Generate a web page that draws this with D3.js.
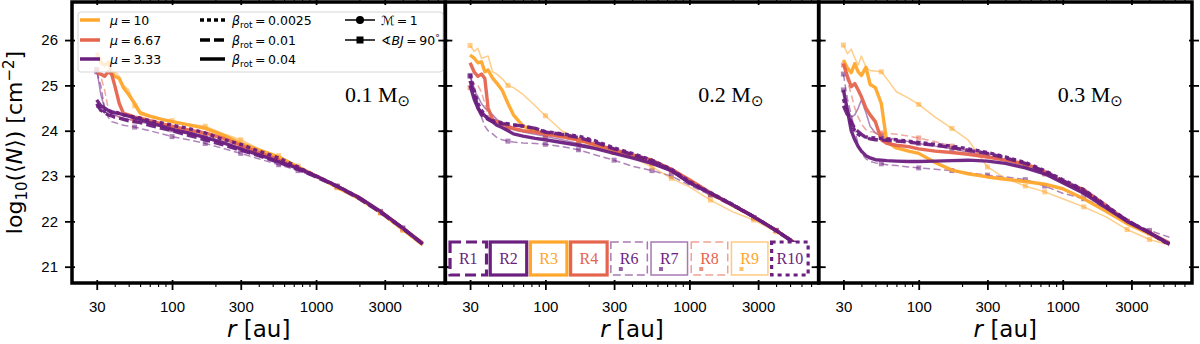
<!DOCTYPE html>
<html>
<head>
<meta charset="utf-8">
<script src="https://cdn.jsdelivr.net/npm/d3@7"></script>
<style>
  body { margin: 0; background: #fff; }
  svg { display: block; }
</style>
</head>
<body>
<svg id="main" width="1200" height="344"></svg>
<script>
// radius grid [au] shared by every profile
var radii = [30, 32, 34, 36, 38, 40, 43, 46, 50, 55, 60, 70, 85, 100, 130, 170, 220, 300, 400, 550, 750, 1000, 1400, 2000, 2800, 4000, 5500];

// square markers on the <BJ = 90 deg runs
var markerRadii = [30, 55, 100, 170, 300, 550, 750, 1400, 2800, 4000];

var massLabels = ['0.1', '0.2', '0.3'];
var majorR = [30, 100, 300, 1000, 3000];
var yTicks = [21, 22, 23, 24, 25, 26];

var runNames = ['R1', 'R2', 'R3', 'R4', 'R6', 'R7', 'R8', 'R9', 'R10'];
var runMu = ['3.33', '3.33', '10', '6.67', '3.33', '3.33', '6.67', '10', '3.33'];
var runBeta = ['0.01', '0.04', '0.04', '0.04', '0.01', '0.04', '0.01', '0.04', '0.0025'];
var runField = ['M1', 'M1', 'M1', 'M1', 'BJ90', 'BJ90', 'BJ90', 'BJ90', 'M1'];

// log10 <N> [cm^-2], 0.1 Msun
var R1_01 = [24.60, 24.45, 24.40, 24.35, 24.33, 24.30, 24.28, 24.25, 24.22, 24.20, 24.18, 24.12, 24.05, 24.00, 23.90, 23.80, 23.70, 23.57, 23.45, 23.30, 23.15, 22.98, 22.77, 22.50, 22.20, 21.85, 21.50];
var R2_01 = [24.68, 24.55, 24.50, 24.45, 24.42, 24.40, 24.38, 24.35, 24.32, 24.28, 24.25, 24.18, 24.10, 24.03, 23.95, 23.85, 23.75, 23.60, 23.47, 23.32, 23.17, 23.00, 22.78, 22.52, 22.22, 21.85, 21.50];
var R3_01 = [25.72, 25.50, 25.45, 25.50, 25.30, 25.20, 25.15, 24.95, 24.80, 24.60, 24.40, 24.32, 24.25, 24.20, 24.13, 24.05, 23.92, 23.72, 23.58, 23.42, 23.20, 23.00, 22.75, 22.50, 22.20, 21.82, 21.48];
var R4_01 = [25.28, 25.25, 25.20, 25.30, 25.25, 25.00, 24.60, 24.38, 24.35, 24.30, 24.28, 24.22, 24.15, 24.10, 24.02, 23.95, 23.85, 23.68, 23.52, 23.36, 23.18, 23.00, 22.77, 22.52, 22.22, 21.85, 21.52];
var R6_01 = [25.30, 25.00, 24.50, 24.30, 24.20, 24.18, 24.15, 24.12, 24.10, 24.08, 24.05, 24.00, 23.93, 23.87, 23.80, 23.72, 23.62, 23.50, 23.38, 23.25, 23.12, 22.97, 22.76, 22.50, 22.20, 21.85, 21.55];
var R7_01 = [25.35, 24.80, 24.50, 24.45, 24.40, 24.35, 24.30, 24.28, 24.25, 24.22, 24.20, 24.15, 24.10, 24.02, 23.95, 23.85, 23.75, 23.60, 23.48, 23.33, 23.17, 23.00, 22.78, 22.52, 22.22, 21.85, 21.50];
var R8_01 = [25.35, 25.20, 24.90, 24.50, 24.40, 24.35, 24.30, 24.28, 24.25, 24.22, 24.20, 24.15, 24.10, 24.05, 23.98, 23.90, 23.80, 23.66, 23.52, 23.35, 23.17, 23.00, 22.77, 22.52, 22.20, 21.82, 21.55];
var R9_01 = [25.60, 25.62, 25.40, 25.55, 25.25, 25.30, 25.20, 25.00, 24.90, 24.55, 24.35, 24.30, 24.25, 24.22, 24.15, 24.10, 23.95, 23.80, 23.60, 23.45, 23.22, 23.00, 22.74, 22.48, 22.18, 21.80, 21.50];
var R10_01 = [24.55, 24.50, 24.42, 24.45, 24.40, 24.42, 24.38, 24.35, 24.33, 24.30, 24.28, 24.22, 24.17, 24.12, 24.05, 23.95, 23.82, 23.70, 23.55, 23.40, 23.20, 23.00, 22.78, 22.52, 22.20, 21.85, 21.50];

// 0.2 Msun
var R1_02 = [25.10, 24.80, 24.50, 24.35, 24.30, 24.25, 24.20, 24.17, 24.15, 24.15, 24.13, 24.10, 24.05, 23.97, 23.92, 23.85, 23.75, 23.60, 23.48, 23.33, 23.13, 22.86, 22.62, 22.36, 22.10, 21.80, 21.50];
var R2_02 = [25.00, 24.70, 24.50, 24.40, 24.33, 24.27, 24.20, 24.12, 24.07, 24.00, 23.93, 23.88, 23.83, 23.80, 23.74, 23.68, 23.61, 23.50, 23.40, 23.28, 23.12, 22.85, 22.62, 22.36, 22.10, 21.80, 21.50];
var R3_02 = [25.67, 25.60, 25.50, 25.52, 25.30, 25.34, 25.16, 25.05, 24.90, 24.60, 24.35, 24.10, 24.00, 23.95, 23.88, 23.80, 23.70, 23.58, 23.45, 23.32, 23.15, 22.90, 22.62, 22.35, 22.10, 21.80, 21.50];
var R4_02 = [25.50, 25.30, 25.20, 25.25, 25.15, 24.50, 24.25, 24.20, 24.15, 24.10, 24.05, 24.00, 23.97, 23.93, 23.87, 23.80, 23.70, 23.58, 23.47, 23.35, 23.15, 22.92, 22.63, 22.36, 22.10, 21.80, 21.50];
var R6_02 = [25.22, 24.95, 24.60, 24.30, 24.10, 24.00, 23.93, 23.85, 23.80, 23.77, 23.75, 23.73, 23.72, 23.70, 23.65, 23.58, 23.47, 23.35, 23.22, 23.12, 23.00, 22.80, 22.58, 22.33, 22.08, 21.80, 21.55];
var R7_02 = [25.20, 24.90, 24.75, 24.60, 24.50, 24.45, 24.35, 24.25, 24.15, 24.08, 24.02, 23.97, 23.92, 23.88, 23.80, 23.72, 23.64, 23.52, 23.42, 23.28, 23.10, 22.84, 22.60, 22.34, 22.08, 21.80, 21.50];
var R8_02 = [24.95, 25.05, 25.00, 24.85, 24.60, 24.35, 24.20, 24.15, 24.10, 24.05, 24.02, 23.98, 23.95, 23.90, 23.84, 23.77, 23.67, 23.55, 23.43, 23.30, 23.10, 22.85, 22.60, 22.33, 22.08, 21.80, 21.50];
var R9_02 = [25.88, 25.75, 25.82, 25.60, 25.62, 25.65, 25.30, 25.25, 25.15, 25.00, 24.95, 24.80, 24.55, 24.33, 24.00, 23.80, 23.65, 23.52, 23.42, 23.20, 22.95, 22.76, 22.47, 22.21, 22.03, 21.77, 21.50];
var R10_02 = [25.25, 24.90, 24.60, 24.45, 24.35, 24.25, 24.22, 24.20, 24.18, 24.15, 24.13, 24.10, 24.05, 23.98, 23.93, 23.88, 23.78, 23.62, 23.50, 23.35, 23.15, 22.88, 22.63, 22.37, 22.10, 21.80, 21.50];

// 0.3 Msun
var R1_03 = [24.55, 24.35, 24.20, 24.05, 23.98, 23.92, 23.85, 23.82, 23.80, 23.80, 23.79, 23.77, 23.75, 23.72, 23.68, 23.63, 23.57, 23.50, 23.40, 23.28, 23.10, 22.90, 22.68, 22.33, 22.02, 21.75, 21.50];
var R2_03 = [24.90, 24.45, 24.00, 23.80, 23.65, 23.55, 23.45, 23.40, 23.36, 23.35, 23.34, 23.33, 23.32, 23.32, 23.33, 23.34, 23.35, 23.33, 23.28, 23.18, 23.05, 22.85, 22.62, 22.30, 22.00, 21.75, 21.50];
var R3_03 = [25.56, 25.38, 25.28, 25.48, 25.30, 25.22, 25.40, 25.02, 24.95, 24.60, 23.75, 23.62, 23.55, 23.50, 23.30, 23.13, 23.05, 22.98, 22.93, 22.88, 22.82, 22.72, 22.50, 22.22, 21.95, 21.72, 21.50];
var R4_03 = [25.48, 25.20, 24.97, 25.04, 24.90, 24.75, 24.50, 24.35, 24.20, 23.80, 23.72, 23.68, 23.65, 23.60, 23.55, 23.52, 23.48, 23.42, 23.35, 23.27, 23.10, 22.88, 22.70, 22.35, 22.00, 21.75, 21.52];
var R6_03 = [25.25, 24.70, 24.35, 24.00, 23.70, 23.50, 23.38, 23.32, 23.29, 23.27, 23.25, 23.23, 23.20, 23.18, 23.15, 23.12, 23.07, 23.02, 22.98, 22.92, 22.78, 22.62, 22.50, 22.28, 22.00, 21.80, 21.65];
var R7_03 = [24.90, 24.50, 24.30, 24.35, 24.50, 24.68, 24.40, 24.10, 23.95, 23.88, 23.85, 23.80, 23.76, 23.72, 23.66, 23.60, 23.53, 23.45, 23.35, 23.22, 23.05, 22.85, 22.62, 22.30, 22.00, 21.75, 21.50];
var R8_03 = [25.45, 25.10, 24.80, 24.50, 24.30, 24.15, 24.02, 23.98, 23.96, 23.95, 23.94, 23.92, 23.88, 23.84, 23.76, 23.66, 23.56, 23.46, 23.35, 23.22, 23.05, 22.85, 22.65, 22.32, 22.00, 21.75, 21.55];
var R9_03 = [25.89, 25.70, 25.80, 25.60, 25.45, 25.65, 25.40, 25.33, 25.32, 25.30, 25.15, 24.86, 24.72, 24.58, 24.30, 24.05, 23.80, 23.20, 22.95, 22.78, 22.65, 22.50, 22.32, 22.10, 21.82, 21.60, 21.48];
var R10_03 = [24.70, 24.40, 24.15, 24.00, 23.92, 23.88, 23.86, 23.85, 23.84, 23.83, 23.82, 23.80, 23.77, 23.74, 23.70, 23.66, 23.60, 23.52, 23.42, 23.30, 23.12, 22.92, 22.70, 22.35, 22.02, 21.75, 21.48];

var profiles = [
  [R1_01, R2_01, R3_01, R4_01, R6_01, R7_01, R8_01, R9_01, R10_01],
  [R1_02, R2_02, R3_02, R4_02, R6_02, R7_02, R8_02, R9_02, R10_02],
  [R1_03, R2_03, R3_03, R4_03, R6_03, R7_03, R8_03, R9_03, R10_03]
];

(function () {
var svgMain = d3.select('#main');
var svgW = +svgMain.attr('width');
var svgH = +svgMain.attr('height');

var pad = {t: 2, r: 8, b: 61, l: 72};
var panelW = (svgW - pad.l - pad.r) / 3;
var plotH = svgH - pad.t - pad.b;

var muColor = {'10': '#ffa62b', '6.67': '#e5644e', '3.33': '#6b1f7f'};
var thickDash = {'0.0025': '4,3.5', '0.01': '10,4', '0.04': null};
var thinDash = {'0.0025': '2,2', '0.01': '7,3.5', '0.04': null};

// where the mass tag sits in each panel
var massLabelX = [273, 253, 239];

var x = d3.scaleLog().domain([20.2, 7900]).range([0, panelW]);
var y = d3.scaleLinear().domain([20.64, 26.84]).range([plotH, 0]);

var minorR = x.ticks().filter(function(d) { return majorR.indexOf(d) < 0; });

var line = d3.line()
  .x(function(d) { return x(d[0]); })
  .y(function(d) { return y(d[1]); });

// thin runs first, thick ones on top
var drawOrder = [4, 5, 6, 7, 2, 3, 1, 0, 8];

function styleFor(i) {
  var thin = runField[i] === 'BJ90';
  return {
    color: muColor[runMu[i]],
    width: thin ? 1.5 : 3.4,
    opacity: thin ? 0.55 : 0.95,
    dash: thin ? thinDash[runBeta[i]] : thickDash[runBeta[i]],
    marker: thin
  };
}

massLabels.forEach(function(mass, p) {
  var g = svgMain.append('g')
    .attr('transform', 'translate(' + (pad.l + p * panelW) + ',' + pad.t + ')');

  drawOrder.forEach(function(i) {
    var s = styleFor(i);
    var pts = radii.map(function(r, k) { return [r, profiles[p][i][k]]; });
    g.append('path')
      .datum(pts)
      .attr('d', line)
      .attr('fill', 'none')
      .attr('stroke', s.color)
      .attr('stroke-width', s.width)
      .attr('stroke-opacity', s.opacity)
      .attr('stroke-dasharray', s.dash)
      .attr('stroke-linejoin', 'round');
    if (s.marker) {
      g.selectAll(null)
        .data(pts.filter(function(d) { return markerRadii.indexOf(d[0]) >= 0; }))
        .enter().append('rect')
        .attr('x', function(d) { return x(d[0]) - 2.5; })
        .attr('y', function(d) { return y(d[1]) - 2.5; })
        .attr('width', 5).attr('height', 5)
        .attr('fill', s.color)
        .attr('fill-opacity', s.opacity);
    }
  });

  drawAxes(g, p === 0);

  // mass tag
  var mt = g.append('text')
    .attr('x', massLabelX[p]).attr('y', 100)
    .attr('font-family', 'Liberation Serif, Times New Roman, serif')
    .attr('font-size', 22)
    .attr('fill', '#000');
  mt.append('tspan').text(mass + ' M');
  mt.append('tspan').attr('font-size', 15).attr('dy', 4)
    .attr('font-family', 'DejaVu Sans').text('\u2299');

  // x label
  var xl = g.append('text')
    .attr('x', panelW / 2).attr('y', svgH - pad.t - 7)
    .attr('text-anchor', 'middle')
    .attr('font-family', 'DejaVu Sans')
    .attr('font-size', 23);
  xl.append('tspan').attr('font-style', 'italic').text('r');
  xl.append('tspan').text(' [au]');

  if (p === 0) drawLegend(g);
  if (p === 1) drawRunBoxes(g);
});

function drawAxes(g, withYLabels) {
  function fixTicks(sel, w) {
    sel.select('.domain').remove();
    sel.selectAll('.tick line').attr('stroke-width', w);
    return sel;
  }
  // bottom majors with labels
  var bx = g.append('g').attr('transform', 'translate(0,' + plotH + ')')
    .attr('font-family', 'DejaVu Sans')
    .call(d3.axisBottom(x).tickValues(majorR).tickFormat(d3.format('d')).tickSize(7).tickPadding(11));
  fixTicks(bx, 1.8);
  bx.selectAll('.tick line').attr('y1', -3);
  bx.selectAll('.tick text').attr('font-size', 15).attr('fill', '#000');
  var bm = g.append('g').attr('transform', 'translate(0,' + plotH + ')')
    .call(d3.axisBottom(x).tickValues(minorR).tickFormat('').tickSize(4));
  fixTicks(bm, 1.1);
  // top
  var tx = g.append('g').call(d3.axisTop(x).tickValues(majorR).tickFormat('').tickSize(7));
  fixTicks(tx, 1.8);
  tx.selectAll('.tick line').attr('y1', 3);
  var tm = g.append('g').call(d3.axisTop(x).tickValues(minorR).tickFormat('').tickSize(4));
  fixTicks(tm, 1.1);
  // left
  var ly = g.append('g')
    .attr('font-family', 'DejaVu Sans')
    .call(d3.axisLeft(y).tickValues(yTicks).tickFormat(withYLabels ? d3.format('d') : '').tickSize(7).tickPadding(7));
  fixTicks(ly, 1.8);
  ly.selectAll('.tick line').attr('x1', 3);
  ly.selectAll('.tick text').attr('font-size', 15).attr('fill', '#000');
  // right
  var ry = g.append('g').attr('transform', 'translate(' + panelW + ',0)')
    .call(d3.axisRight(y).tickValues(yTicks).tickFormat('').tickSize(7));
  fixTicks(ry, 1.8);
  ry.selectAll('.tick line').attr('x1', -3);

  g.append('rect')
    .attr('x', 0).attr('y', 0)
    .attr('width', panelW).attr('height', plotH)
    .attr('fill', 'none')
    .attr('stroke', '#000')
    .attr('stroke-width', 3.5);
}

function drawLegend(g) {
  var lg = g.append('g').attr('transform', 'translate(6,10)')
    .attr('font-family', 'DejaVu Sans').attr('font-size', 12.5);
  lg.append('rect')
    .attr('width', 365).attr('height', 60).attr('rx', 3)
    .attr('fill', '#fff').attr('fill-opacity', 0.8)
    .attr('stroke', '#d6d6d6').attr('stroke-width', 1);

  var rowY = [8, 28, 47];
  var eq = '\u2009=\u2009';
  // mu column
  ['10', '6.67', '3.33'].forEach(function(mu, k) {
    lg.append('line').attr('x1', 2).attr('x2', 22).attr('y1', rowY[k]).attr('y2', rowY[k])
      .attr('stroke', muColor[mu]).attr('stroke-width', 3.5);
    var t = lg.append('text').attr('x', 32).attr('y', rowY[k] + 4.5);
    t.append('tspan').attr('font-style', 'italic').text('\u03bc');
    t.append('tspan').text(eq + mu);
  });
  // beta column
  ['0.0025', '0.01', '0.04'].forEach(function(b, k) {
    lg.append('line').attr('x1', 122).attr('x2', 147).attr('y1', rowY[k]).attr('y2', rowY[k])
      .attr('stroke', '#000').attr('stroke-width', 3.5)
      .attr('stroke-dasharray', b === '0.0025' ? '4,3' : (b === '0.01' ? '10,4' : null));
    var t = lg.append('text').attr('x', 154).attr('y', rowY[k] + 4.5);
    t.append('tspan').attr('font-style', 'italic').text('\u03b2');
    t.append('tspan').attr('font-size', 9).attr('dy', 3).text('rot');
    t.append('tspan').attr('dy', -3).text(eq + b);
  });
  // field column
  [0, 1].forEach(function(k) {
    lg.append('line').attr('x1', 267).attr('x2', 297).attr('y1', rowY[k]).attr('y2', rowY[k])
      .attr('stroke', '#000').attr('stroke-width', 1.5);
    if (k === 0) {
      lg.append('circle').attr('cx', 282).attr('cy', rowY[k]).attr('r', 4).attr('fill', '#000');
    } else {
      lg.append('rect').attr('x', 278.5).attr('y', rowY[k] - 3.5).attr('width', 7).attr('height', 7).attr('fill', '#000');
    }
    var t = lg.append('text').attr('x', 303).attr('y', rowY[k] + 4.5);
    if (k === 0) {
      t.append('tspan').attr('font-style', 'italic').text('\u2133');
      t.append('tspan').text(eq + '1');
    } else {
      t.append('tspan').text('\u2222');
      t.append('tspan').attr('font-style', 'italic').text('BJ');
      t.append('tspan').text(eq + '90');
      t.append('tspan').attr('font-size', 9).attr('dy', -4).text('\u00b0');
    }
  });
}

function drawRunBoxes(g) {
  var left = 4.7, step = 40.2, bw = 36.5, top = 240, bh = 33;
  runNames.forEach(function(name, i) {
    var s = styleFor(i);
    var bx = left + i * step;
    var thin = runField[i] === 'BJ90';
    g.append('rect')
      .attr('x', bx).attr('y', top).attr('width', bw).attr('height', bh)
      .attr('fill', '#fff')
      .attr('stroke', s.color)
      .attr('stroke-opacity', thin ? 0.6 : 1)
      .attr('stroke-width', thin ? 1.5 : 3.2)
      .attr('stroke-dasharray', runBeta[i] === '0.0025' ? '4,4' : (runBeta[i] === '0.01' ? (thin ? '8,4' : '11,5') : null));
    g.append('text')
      .attr('x', bx + bw / 2).attr('y', top + 22)
      .attr('text-anchor', 'middle')
      .attr('font-family', 'Liberation Serif, Times New Roman, serif')
      .attr('font-size', 16)
      .attr('fill', s.color)
      .text(name);
    if (thin) {
      g.append('rect')
        .attr('x', bx + 8).attr('y', top + 25)
        .attr('width', 4).attr('height', 4)
        .attr('fill', s.color).attr('fill-opacity', 0.7);
    }
  });
}

// y label
var yl = svgMain.append('text')
  .attr('transform', 'translate(22,' + (pad.t + plotH / 2) + ') rotate(-90)')
  .attr('text-anchor', 'middle')
  .attr('font-family', 'DejaVu Sans')
  .attr('font-size', 22);
yl.append('tspan').text('log');
yl.append('tspan').attr('font-size', 15).attr('dy', 5).text('10');
yl.append('tspan').attr('dy', -5).text('(\u27e8');
yl.append('tspan').attr('font-style', 'italic').text('N');
yl.append('tspan').text('\u27e9) [cm');
yl.append('tspan').attr('font-size', 15).attr('dy', -8).text('\u22122');
yl.append('tspan').attr('dy', 8).text(']');
})();
</script>
</body>
</html>
